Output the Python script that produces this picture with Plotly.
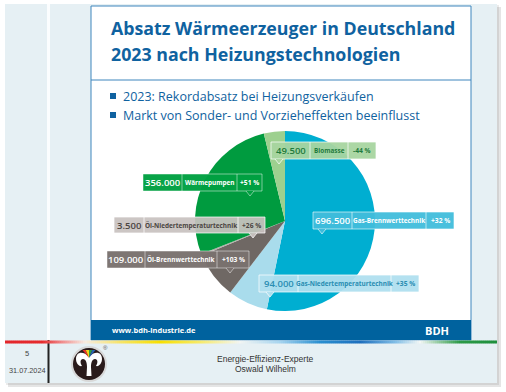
import plotly.graph_objects as go

W, H = 506, 392

# ---------------- data ----------------
categories = ["Gas-Brennwerttechnik", "Gas-Niedertemperaturtechnik", "Öl-Brennwerttechnik",
              "Öl-Niedertemperaturtechnik", "Wärmepumpen", "Biomasse"]
values = [696500, 94000, 109000, 3500, 356000, 49500]
changes = ["+32 %", "+35 %", "+103 %", "+26 %", "+51 %", "-44 %"]
slice_colors = ["#00aed1", "#a9dcec", "#6f6864", "#b4ada9", "#009b3f", "#9dd08f"]

title_lines = ["Absatz Wärmeerzeuger in Deutschland", "2023 nach Heizungstechnologien"]
bullets = ["2023: Rekordabsatz bei Heizungsverkäufen",
           "Markt von Sonder- und Vorzieheffekten beeinflusst"]

# ---------------- helpers (pixel -> paper) ----------------
def fx(x):
    return x / W

def fy(y):
    return 1 - y / H

def P(x, y):
    return f"{fx(x):.5f},{fy(y):.5f}"

def path(points):
    return "M " + " L ".join(P(x, y) for x, y in points) + " Z"

shapes = []
annos = []

def rect(x0, y0, x1, y1, fill, line=None, lw=0, layer="above"):
    shapes.append(dict(type="rect", xref="paper", yref="paper",
                       x0=fx(x0), x1=fx(x1), y0=fy(y1), y1=fy(y0),
                       fillcolor=fill, line=dict(color=line or fill, width=lw), layer=layer))

def text(x, y, t, size, color, family="Open Sans", weight=400, xanchor="left"):
    annos.append(dict(x=fx(x), y=fy(y), xref="paper", yref="paper", text=t, showarrow=False,
                      xanchor=xanchor, yanchor="middle",
                      font=dict(family=family, size=size, color=color, weight=weight)))

# ---------------- slide frame ----------------
rect(8, 7, 501, 387, "rgba(0,0,0,0.10)", layer="below")
rect(6, 5, 499, 385, "rgba(0,0,0,0.08)", layer="below")
rect(5, 4, 497, 383, "#e6f0f4", layer="below")
rect(47, 4, 50, 340, "#fbfdfe", layer="below")
rect(47.5, 340, 49.5, 383, "#222222", layer="below")
# white content box
rect(91, 6, 471, 340, "#ffffff", line="#3f86bd", lw=1, layer="below")
shapes.append(dict(type="line", xref="paper", yref="paper", x0=fx(91), x1=fx(471), y0=fy(80), y1=fy(80),
                   line=dict(color="#3f86bd", width=1), layer="below"))
rect(91, 320, 471, 340, "#00629e", layer="below")

# rainbow line
stops = [(5, (227, 38, 42)), (42, (229, 43, 45)), (62, (240, 140, 140)), (85, (247, 236, 226)),
         (120, (247, 228, 106)), (160, (248, 224, 0)), (200, (247, 234, 106)), (240, (242, 245, 243)),
         (280, (166, 212, 239)), (320, (42, 143, 208)), (360, (30, 111, 189)), (395, (127, 189, 230)),
         (420, (243, 247, 245)), (440, (141, 199, 154)), (460, (44, 154, 71)), (497, (30, 143, 60))]

def col_at(x):
    for (xa, ca), (xb, cb) in zip(stops[:-1], stops[1:]):
        if xa <= x <= xb:
            t = (x - xa) / (xb - xa)
            c = [round(a + (b - a) * t) for a, b in zip(ca, cb)]
            return f"rgb({c[0]},{c[1]},{c[2]})"
    return "rgb(30,143,60)"

x = 5
while x < 497:
    shapes.append(dict(type="line", xref="paper", yref="paper", x0=fx(x), x1=fx(min(x + 2.2, 497)),
                       y0=fy(342), y1=fy(342), line=dict(color=col_at(x + 1), width=3), layer="below"))
    x += 2

# ---------------- titles ----------------
text(109, 28, "<b>" + title_lines[0] + "</b>", 17.8, "#0f62a0", weight=700)
text(109, 54, "<b>" + title_lines[1] + "</b>", 17.8, "#0f62a0", weight=700)
for i, b in enumerate(bullets):
    yy = 96 + i * 19
    rect(110, yy - 3, 116, yy + 3, "#0f62a0")
    text(121, yy, b, 12.5, "#0f62a0", weight=500)

# footer
text(110, 330, "<b>www.bdh-industrie.de</b>", 7.5, "#ffffff", weight=700)
text(451, 330, "<b>BDH</b>", 11, "#ffffff", weight=700, xanchor="right")
text(27, 353, "5", 7.5, "#444444", family="Liberation Sans", xanchor="center")
text(27, 370, "31.07.2024", 7.3, "#444444", family="Liberation Sans", xanchor="center")
text(265, 359, "Energie-Effizienz-Experte", 8.5, "#333333", family="Liberation Sans", xanchor="center")
text(265, 369, "Oswald Wilhelm", 8.5, "#333333", family="Liberation Sans", xanchor="center")

# logo
cx, cy = 89, 364
shapes.append(dict(type="circle", xref="paper", yref="paper", x0=fx(cx - 18), x1=fx(cx + 18),
                   y0=fy(cy + 18), y1=fy(cy - 18), fillcolor="#d8d8d8", line=dict(width=0), layer="above"))
shapes.append(dict(type="circle", xref="paper", yref="paper", x0=fx(cx - 16), x1=fx(cx + 16),
                   y0=fy(cy + 16), y1=fy(cy - 16), fillcolor="#2a1b1b", line=dict(width=0), layer="above"))
logo_path = (f"M {P(89,357)} C {P(84,351)} {P(76,351)} {P(76,359)} C {P(76,363)} {P(79,367)} {P(82,366)} "
             f"C {P(80,363)} {P(80,359)} {P(83,359)} C {P(86,359)} {P(87,363)} {P(87,367)} "
             f"L {P(86.5,376)} L {P(91.5,376)} L {P(91,367)} C {P(91,363)} {P(92,359)} {P(95,359)} "
             f"C {P(98,359)} {P(98,363)} {P(96,366)} C {P(99,367)} {P(102,363)} {P(102,359)} "
             f"C {P(102,351)} {P(94,351)} {P(89,357)} Z")
shapes.append(dict(type="path", xref="paper", yref="paper", path=logo_path,
                   fillcolor="#ffffff", line=dict(width=0), layer="above"))
tri_cols = ["#e5322b", "#f3d21b", "#2ea043", "#2b62b5"]
for i, c in enumerate(tri_cols):
    xa, xb = 82.5 + 3.25 * i, 82.5 + 3.25 * (i + 1)
    shapes.append(dict(type="path", xref="paper", yref="paper",
                       path=path([(xa, 350), (xb, 350), (89, 358)]),
                       fillcolor=c, line=dict(width=0), layer="above"))
text(105, 348, "®", 6, "#555555", family="Liberation Sans", xanchor="center")

# ---------------- callout boxes ----------------
callouts = [
    dict(xs=[313, 352, 426, 454], y0=212, y1=229, px=322, fill="rgba(64,189,219,0.95)", tc="#ffffff", lc="rgba(255,255,255,0.75)"),
    dict(xs=[259, 298, 391, 419], y0=275, y1=292, px=270, fill="rgba(176,223,239,0.95)", tc="#2a8db2", lc="rgba(255,255,255,0.9)"),
    dict(xs=[107, 145, 217, 249], y0=251, y1=268, px=230, fill="rgba(122,114,110,0.97)", tc="#ffffff", lc="rgba(255,255,255,0.6)"),
    dict(xs=[114, 144, 238, 265], y0=217, y1=233, px=253, fill="rgba(200,194,191,0.93)", tc="#4b4542", lc="rgba(255,255,255,0.9)"),
    dict(xs=[143, 182, 237, 262], y0=174, y1=191, px=250, fill="rgba(0,160,65,0.97)", tc="#ffffff", lc="rgba(255,255,255,0.6)"),
    dict(xs=[271, 310, 348, 376], y0=142, y1=159, px=279, fill="rgba(168,213,160,0.95)", tc="#1f7a3c", lc="rgba(255,255,255,0.9)"),
]

for cat, val, chg, co in zip(categories, values, changes, callouts):
    xs, y0, y1 = co["xs"], co["y0"], co["y1"]
    rect(xs[0], y0, xs[3], y1, co["fill"], line=co["lc"], lw=0.8)
    for xi in xs[1:3]:
        shapes.append(dict(type="line", xref="paper", yref="paper", x0=fx(xi), x1=fx(xi),
                           y0=fy(y0), y1=fy(y1), line=dict(color=co["lc"], width=0.8), layer="above"))
    px_ = co["px"]
    shapes.append(dict(type="path", xref="paper", yref="paper",
                       path=f"M {P(px_-4, y1)} L {P(px_, y1+5)} L {P(px_+4, y1)}",
                       fillcolor=co["fill"], line=dict(color=co["lc"], width=0.8), layer="above"))
    ym = (y0 + y1) / 2
    val_txt = f"{val:,}".replace(",", ".")
    text((xs[0] + xs[1]) / 2, ym, val_txt, 9.5, co["tc"], weight=600, xanchor="center")
    text((xs[1] + xs[2]) / 2, ym, "<b>" + cat + "</b>", 6.4, co["tc"], weight=700, xanchor="center")
    text((xs[2] + xs[3]) / 2, ym, "<b>" + chg + "</b>", 6.7, co["tc"], weight=700, xanchor="center")

# ---------------- pie ----------------
fig = go.Figure(go.Pie(
    labels=categories, values=values, sort=False, direction="clockwise", rotation=0,
    marker=dict(colors=slice_colors, line=dict(width=0)),
    textinfo="none", hoverinfo="skip", showlegend=False,
    domain=dict(x=[fx(195), fx(375)], y=[fy(311), fy(131)]),
))

fig.update_layout(width=W, height=H, margin=dict(l=0, r=0, t=0, b=0),
                  paper_bgcolor="#ffffff", plot_bgcolor="#ffffff",
                  shapes=shapes, annotations=annos, showlegend=False)
fig.write_html("out.html", config={"displayModeBar": False},
               post_script="document.body.style.margin='0px';document.body.style.padding='0px';")
